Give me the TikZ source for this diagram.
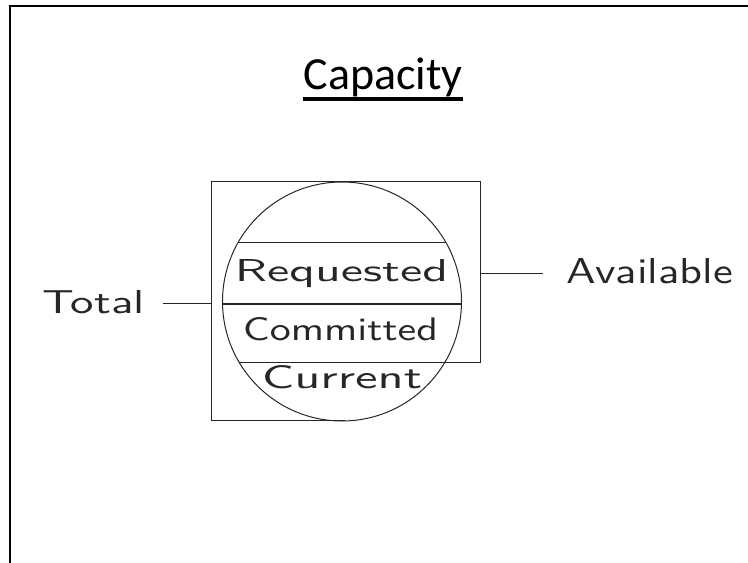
\documentclass[tikz,border=0pt]{standalone}
\usepackage{fontspec}
\newfontfamily\titlefont{Carlito}
\newcommand\cadtxt[3]{\resizebox{#1bp}{#2bp}{#3}}
\begin{document}
\begin{tikzpicture}[x=1bp,y=-1bp,
  frameline/.style={line width=2.2bp,black},
  cadline/.style={line width=1bp,black!85},
  midline/.style={line width=1.8bp,black!85},
  cad/.style={inner sep=0pt,anchor=base,font=\sffamily,text=black!85}]
\useasboundingbox (0,0) rectangle (748,563);
% outer frame
\draw[frameline] (760,6) -- (10,6) -- (10,570);
% title
\node[anchor=base,inner sep=0pt,font=\titlefont\fontsize{46bp}{50bp}\selectfont] (title) at (383,90) {Capacity};
\draw[line width=4bp] ([yshift=-9bp]title.base west) -- ([yshift=-9bp]title.base east);
% box outline
\coordinate (tl) at (211.7,181.7);
\coordinate (tr) at (480,181.7);
\coordinate (rb) at (480,362);
\coordinate (bl) at (211.7,420);
\coordinate (bm) at (345,420);
\coordinate (chordAl) at (238.4,242);
\coordinate (chordAr) at (445.6,242);
\coordinate (chordBl) at (239,362);
\coordinate (midl) at (222.5,304);
\coordinate (midr) at (461.5,304);
\draw[cadline] (bm) -- (bl) -- (tl) -- (tr) -- (rb) -- (chordBl);
\node[circle,draw,cadline,minimum size=239bp,inner sep=0pt] (disk) at (342,301.5) {};
\draw[cadline] (chordAl) -- (chordAr);
\draw[midline] (midl) -- (midr);
% texts
\node[cad] (req) at (341.5,281.7) {\cadtxt{213}{22}{Requested}};
\node[cad] (com) at (340.5,340) {\cadtxt{195}{23}{Committed}};
\node[cad] (cur) at (342,388) {\cadtxt{160}{23}{Current}};
\node[cad] (total) at (94,313) {\cadtxt{102}{23}{Total}};
\node[cad] (avail) at (650,283) {\cadtxt{166}{25}{Available}};
% connectors
\coordinate (totend) at (163,303);
\coordinate (avend) at (543,273);
\draw[cadline] (totend) -- (totend -| tl);
\draw[cadline] (avend) -- (avend -| tr);
\end{tikzpicture}
\end{document}
